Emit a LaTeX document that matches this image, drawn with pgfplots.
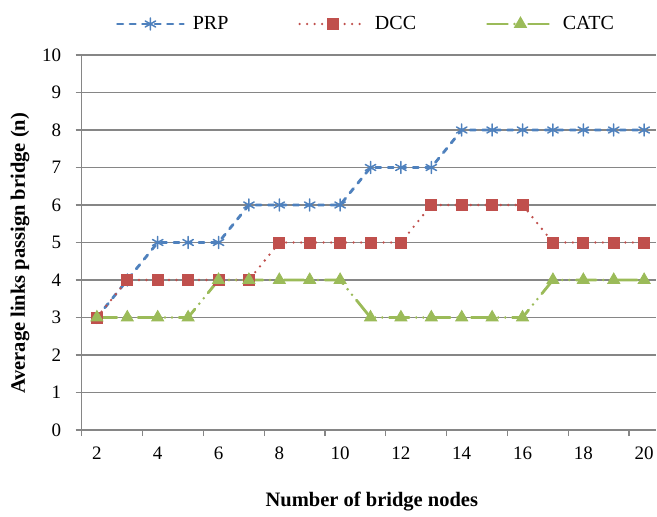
\documentclass[border=0pt]{standalone}
\usepackage{pgfplots}
\pgfplotsset{compat=1.18}
\usepackage{fontspec}
\setmainfont{Liberation Serif}
\definecolor{prp}{RGB}{79,129,189}
\definecolor{dcc}{RGB}{192,80,77}
\definecolor{catc}{RGB}{155,187,89}
\definecolor{gridgray}{RGB}{134,134,134}
\begin{document}
\begin{tikzpicture}
\useasboundingbox (-81.7bp,-87bp) rectangle (575.3bp,430bp);
\begin{axis}[
  at={(0,0)}, anchor=south west,
  scale only axis, width=574.6bp, height=375bp,
  xmin=1.5, xmax=20.4, ymin=0, ymax=10,
  axis x line=bottom, axis y line=left,
  axis line style={-, draw=gridgray, line width=1.2bp},
  ytick={0,1,...,10},
  yticklabels={0,1,2,3,4,5,6,7,8,9,10},
  ymajorgrids,
  major grid style={draw=gridgray, line width=1.2bp},
  xtick={1.5,3.5,5.5,7.5,9.5,11.5,13.5,15.5,17.5,19.5},
  xticklabels={},
  extra x ticks={2,4,6,8,10,12,14,16,18,20},
  extra x tick labels={2,4,6,8,10,12,14,16,18,20},
  extra x tick style={major tick length=0pt, grid=none, xticklabel style={yshift=-13bp}},
  tick align=outside, major tick length=6bp,
  tick style={draw=gridgray, line width=1.2bp},
  ticklabel style={font=\rmfamily\fontsize{19bp}{22bp}\selectfont},
  yticklabel style={xshift=-11bp},
  /pgf/number format/assume math mode=true,
  xlabel={Number of bridge nodes},
  ylabel={Average links passign bridge (n)},
  label style={font=\rmfamily\fontsize{20.5bp}{24bp}\selectfont\bfseries},
  xlabel style={at={(axis description cs:0.505,-0.2045)}, anchor=base},
  ylabel style={at={(axis description cs:-0.1074,0.471)}, anchor=center},
  legend columns=3,
  legend style={draw=none, fill=none, at={(axis description cs:0.4948,1)}, anchor=center, yshift=31bp,
    font=\rmfamily\fontsize{20bp}{24bp}\selectfont,
    /tikz/every odd column/.append style={column sep=6bp},
    /tikz/every even column/.append style={column sep=68bp}},
  legend image code/.code={\draw[mark repeat=2,mark phase=2,#1] plot coordinates {(0bp,0bp) (33bp,0bp) (66bp,0bp)};},
]
\addplot[prp, line width=2.8bp, line cap=round, dash pattern=on 5.5bp off 7bp,
  mark=asterisk, mark size=6bp, mark options={solid, line width=1.5bp, draw=prp}]
  coordinates {(2,3) (3,4) (4,5) (5,5) (6,5) (7,6) (8,6) (9,6) (10,6) (11,7) (12,7) (13,7) (14,8) (15,8) (16,8) (17,8) (18,8) (19,8) (20,8)};
\addlegendentry{PRP}
\addplot[dcc, line width=2.6bp, line cap=round, dash pattern=on 0bp off 7.5bp,
  mark=square*, mark size=5.5bp, mark options={solid, line width=0.8bp, draw=dcc, fill=dcc}]
  coordinates {(2,3) (3,4) (4,4) (5,4) (6,4) (7,4) (8,5) (9,5) (10,5) (11,5) (12,5) (13,6) (14,6) (15,6) (16,6) (17,5) (18,5) (19,5) (20,5)};
\addlegendentry{DCC}
\addplot[catc, line width=2.8bp, line cap=round, dash pattern=on 20bp off 7bp on 0bp off 7bp on 0bp off 7bp,
  mark=triangle*, mark size=7bp, mark options={solid, line width=0.8bp, draw=catc, fill=catc}]
  coordinates {(2,3) (3,3) (4,3) (5,3) (6,4) (7,4) (8,4) (9,4) (10,4) (11,3) (12,3) (13,3) (14,3) (15,3) (16,3) (17,4) (18,4) (19,4) (20,4)};
\addlegendentry{CATC}
\end{axis}
\end{tikzpicture}
\end{document}
